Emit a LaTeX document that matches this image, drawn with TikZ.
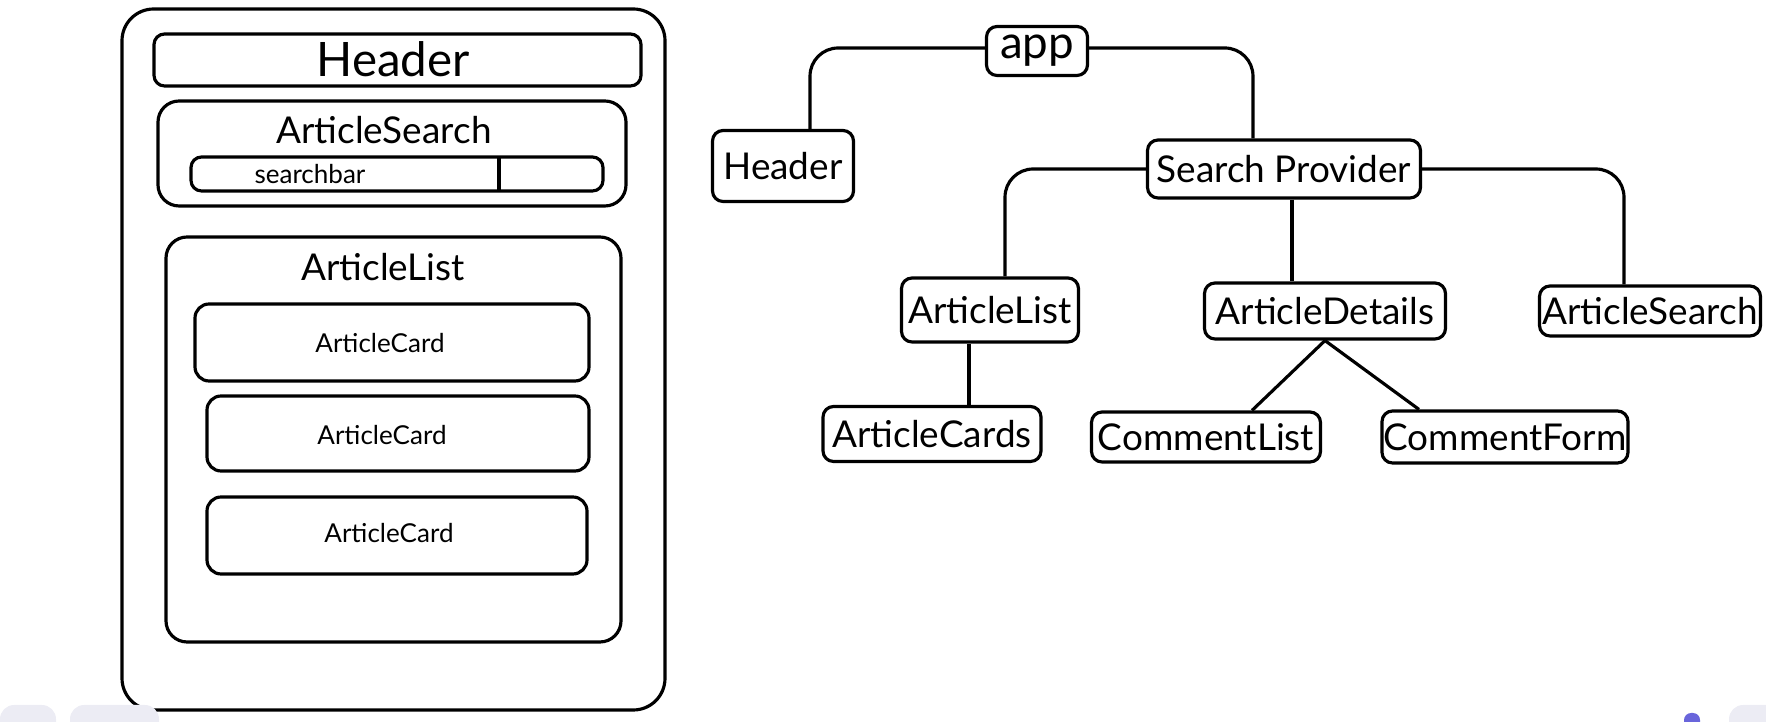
\documentclass[tikz,border=0pt]{standalone}
\usepackage{fontspec}
\setmainfont{Lato}
\definecolor{chrome}{RGB}{236,236,244}
\definecolor{brand}{RGB}{105,101,219}
\begin{document}
\begin{tikzpicture}[x=0.01cm,y=-0.01cm,line width=0.9pt,
  dims/.style 2 args={minimum width=#1*0.01cm,minimum height=#2*0.01cm},
  comp/.style={draw,rounded corners=3pt,inner sep=0pt,font=\fontsize{10.5}{12}\selectfont},
  wire/.style={draw,rounded corners=8pt}]
  \useasboundingbox (0,0) rectangle (1766,722);
  % wireframe of the page
  \draw[rounded corners=9pt] (122,9) rectangle (665,710);
  \draw[rounded corners=3pt] (154,34) rectangle (641,86);
  \node[font=\fontsize{13.5}{16}\selectfont] at (393,59) {Header};
  \draw[rounded corners=6pt] (158,101) rectangle (626,206);
  \node[font=\fontsize{10.5}{12}\selectfont] at (384,130) {ArticleSearch};
  \draw[rounded corners=3pt] (191,157) rectangle (603,191);
  \draw (499,157) -- (499,191);
  \node[font=\fontsize{7.4}{9}\selectfont] at (310,174) {searchbar};
  \draw[rounded corners=6pt] (166,237) rectangle (621,642);
  \node[font=\fontsize{10.5}{12}\selectfont] at (383,267) {ArticleList};
  \draw[rounded corners=4pt] (195,304) rectangle (589,381);
  \node[font=\fontsize{7.4}{9}\selectfont] at (380,343) {ArticleCard};
  \draw[rounded corners=4pt] (207,396) rectangle (589,471);
  \node[font=\fontsize{7.4}{9}\selectfont] at (382,435) {ArticleCard};
  \draw[rounded corners=4pt] (207,497) rectangle (587,574);
  \node[font=\fontsize{7.4}{9}\selectfont] at (389,533) {ArticleCard};
  % component tree
  \node[comp,dims={101}{49},font=\fontsize{13}{15}\selectfont] (app) at (1037,51) {app};
  \node[comp,dims={141}{71}] (hdr) at (783,166) {Header};
  \node[comp,dims={273}{58}] (prov) at (1284,169) {Search Provider};
  \node[comp,dims={177}{64}] (list) at (990,310) {ArticleList};
  \node[comp,dims={241}{56}] (details) at (1325,311) {ArticleDetails};
  \node[comp,dims={221}{50}] (search) at (1650,311) {ArticleSearch};
  \node[comp,dims={218}{55}] (cards) at (932,434) {ArticleCards};
  \node[comp,dims={229}{50}] (clist) at (1206,437) {CommentList};
  \node[comp,dims={246}{52}] (cform) at (1505,437) {CommentForm};
  \draw[wire] ([yshift=0.03cm]app.west) -| ([xshift=0.27cm]hdr.north);
  \draw[wire] ([yshift=0.03cm]app.east) -| ([xshift=-0.31cm]prov.north);
  \draw[wire] (prov.west) -| ([xshift=0.15cm]list.north);
  \draw[wire] ([xshift=0.08cm]prov.south) -- ([xshift=0.08cm]prov.south |- details.north);
  \draw[wire] (prov.east) -| ([xshift=-0.26cm]search.north);
  \draw[wire] ([xshift=-0.21cm]list.south) -- ([xshift=-0.21cm]list.south |- cards.north);
  \draw (details.south) -- ([xshift=0.46cm]clist.north);
  \draw (details.south) -- ([xshift=-0.86cm]cform.north);
  % editor chrome at the bottom edge
  \fill[chrome,rounded corners=4pt] (0,705) rectangle (56,740);
  \fill[chrome,rounded corners=4pt] (70,705) rectangle (159,740);
  \fill[chrome,rounded corners=4pt] (1729,705) rectangle (1790,740);
  \fill[brand,rounded corners=2pt] (1684,713) rectangle (1700,730);
\end{tikzpicture}
\end{document}
